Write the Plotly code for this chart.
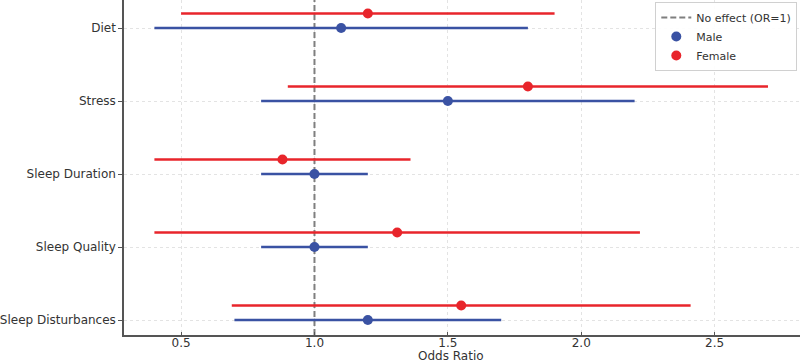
import plotly.graph_objects as go

factors = ["Sleep Disturbances", "Sleep Quality", "Sleep Duration", "Stress", "Diet"]
male_or = [1.20, 1.00, 1.00, 1.50, 1.10]
male_lo = [0.70, 0.80, 0.80, 0.80, 0.40]
male_hi = [1.70, 1.20, 1.20, 2.20, 1.80]
female_or = [1.55, 1.31, 0.88, 1.80, 1.20]
female_lo = [0.69, 0.40, 0.40, 0.90, 0.50]
female_hi = [2.41, 2.22, 1.36, 2.70, 1.90]
x_ticks = [0.5, 1.0, 1.5, 2.0, 2.5]
NO_EFFECT = 1.0
FEMALE_OFFSET = 0.2

X_RANGE = [0.286, 2.82]
Y_RANGE = [-0.205, 4.384]

BLUE = "#3a52a3"
RED = "#e8252b"

ypos = list(range(len(factors)))
ypos_f = [y + FEMALE_OFFSET for y in ypos]

fig = go.Figure()

# reference line spanning the full y-axis range, drawn above the grid, below data
fig.add_trace(go.Scatter(
    x=[NO_EFFECT, NO_EFFECT], y=Y_RANGE, mode="lines", name="No effect (OR=1)",
    line=dict(color="#7f7f7f", width=2, dash="6px,3px"), hoverinfo="skip"))

fig.add_trace(go.Scatter(
    x=male_or, y=ypos, mode="markers", name="Male",
    marker=dict(color=BLUE, size=10),
    error_x=dict(type="data", symmetric=False,
                 array=[h - o for h, o in zip(male_hi, male_or)],
                 arrayminus=[o - l for o, l in zip(male_or, male_lo)],
                 color=BLUE, thickness=2.5, width=0)))

fig.add_trace(go.Scatter(
    x=female_or, y=ypos_f, mode="markers", name="Female",
    marker=dict(color=RED, size=10),
    error_x=dict(type="data", symmetric=False,
                 array=[h - o for h, o in zip(female_hi, female_or)],
                 arrayminus=[o - l for o, l in zip(female_or, female_lo)],
                 color=RED, thickness=2.5, width=0)))

fig.update_layout(
    width=800, height=364,
    margin=dict(l=121, r=0, t=0, b=29),
    paper_bgcolor="white", plot_bgcolor="white",
    font=dict(family="DejaVu Sans", size=12, color="#333333"),
    legend=dict(x=0.996, y=0.994, xanchor="right", yanchor="top",
                bgcolor="rgba(255,255,255,0.9)", bordercolor="#d0d0d0", borderwidth=1,
                font=dict(size=11), tracegroupgap=0, itemwidth=30),
    xaxis=dict(range=X_RANGE, tickvals=x_ticks, ticktext=[f"{v:.1f}" for v in x_ticks],
               showgrid=True, gridcolor="#e3e3e3", griddash="dot", gridwidth=1,
               showline=True, linecolor="#555555", linewidth=1.5,
               ticks="inside", ticklen=3, tickcolor="#555555", zeroline=False,
               ticklabelstandoff=-4, tickfont=dict(size=12)),
    yaxis=dict(range=Y_RANGE, tickvals=ypos, ticktext=factors,
               showgrid=True, gridcolor="#e3e3e3", griddash="dot", gridwidth=1,
               showline=True, linecolor="#555555", linewidth=1.5,
               ticks="outside", ticklen=4, tickcolor="#555555", zeroline=False,
               tickfont=dict(size=12)),
    annotations=[dict(text="Odds Ratio", xref="paper", yref="paper", x=0.483, y=0,
                      yshift=-12, xanchor="center", yanchor="top", showarrow=False,
                      font=dict(size=12, color="#333333"))],
)

fig.write_html("out.html", config={"displayModeBar": False},
               post_script="document.body.style.margin='0';document.body.style.padding='0';")
